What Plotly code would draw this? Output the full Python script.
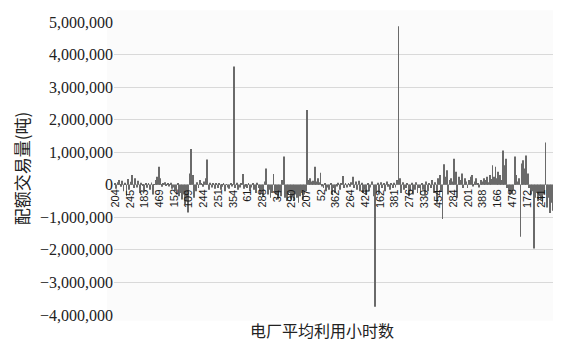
import plotly.graph_objects as go

# Tick labels (every 10th plant, average utilisation hours)
tick_labels = ["204", "245", "183", "469", "152", "109", "244", "251", "354", "61",
               "288", "34", "290", "207", "52", "362", "264", "424", "162", "381",
               "276", "330", "454", "284", "201", "388", "166", "478", "172", "241"]

# Quota trading volume per plant (tonnes) in groups of 10
seg00 = [50000, -120000, 80000, 150000, -60000, 120000, -200000, 60000, -350000, 180000]
seg01 = [-150000, 90000, 300000, -100000, 200000, -80000, 120000, -250000, 60000, -40000]
seg02 = [-200000, 40000, -90000, 30000, -150000, 70000, -300000, 20000, 150000, 250000]
seg03 = [550000, 200000, -60000, 40000, 80000, -30000, 30000, -50000, 60000, -120000]
seg04 = [-80000, -200000, -300000, 50000, -350000, -250000, -450000, -300000, -600000, -500000]
seg05 = [-850000, 350000, 1100000, 300000, -400000, -200000, 80000, -100000, 150000, 50000]
seg06 = [-60000, 100000, 200000, 780000, -150000, 60000, -80000, 50000, -120000, 40000]
seg07 = [-100000, 30000, -150000, -60000, 50000, -200000, 20000, -80000, -120000, 40000]
seg08 = [-50000, 3630000, -100000, 60000, -150000, -80000, 40000, 330000, -120000, -60000]
seg09 = [-100000, 50000, -200000, -80000, 30000, -150000, -250000, 60000, -100000, -300000]
seg10 = [-200000, -350000, 100000, 500000, -300000, -150000, -400000, -250000, 330000, -200000]
seg11 = [-300000, -450000, -200000, -350000, 150000, 870000, -400000, -500000, -300000, -250000]
seg12 = [-450000, -350000, -500000, -300000, -400000, -550000, -350000, -250000, -450000, -300000]
seg13 = [-200000, 2300000, 150000, 200000, 100000, 120000, 550000, 100000, 200000, 80000]
seg14 = [370000, -50000, -100000, 40000, -200000, -80000, -150000, 30000, -300000, -100000]
seg15 = [-250000, -50000, 60000, -150000, 30000, 270000, -100000, 50000, -80000, 40000]
seg16 = [-60000, 80000, 250000, -100000, 100000, -150000, 120000, -200000, 60000, -250000]
seg17 = [-150000, -300000, 40000, -200000, -80000, 100000, -350000, -3750000, -250000, 60000]
seg18 = [-300000, 80000, -100000, 50000, -200000, 100000, -60000, -150000, 30000, -100000]
seg19 = [60000, -80000, 150000, 4870000, 200000, -250000, 80000, -150000, -100000, 50000]
seg20 = [-350000, -200000, 60000, -300000, -150000, 80000, -250000, -100000, -300000, 40000]
seg21 = [-150000, -300000, 100000, -200000, 50000, -100000, 150000, -250000, 80000, -550000]
seg22 = [200000, 300000, -200000, -1050000, 630000, 250000, 450000, -300000, 150000, 200000]
seg23 = [100000, 800000, 400000, -400000, 250000, 150000, 350000, -100000, 200000, 100000]
seg24 = [-100000, 150000, 250000, 300000, -50000, 100000, 200000, 50000, -80000, 150000]
seg25 = [100000, 200000, 150000, 250000, 80000, 300000, 180000, 600000, 250000, 550000]
seg26 = [200000, 400000, 300000, 150000, 1050000, 600000, 800000, -100000, -200000, -300000]
seg27 = [-250000, -150000, 870000, 300000, 100000, 200000, -1600000, 650000, 750000, 500000]
seg28 = [900000, 350000, -100000, -300000, -200000, -1960000, -400000, -250000, -500000, -350000]
seg29 = [-450000, -600000, -300000, 1300000, -700000, -400000, -870000, -550000, -800000, -650000]

segments = [seg00, seg01, seg02, seg03, seg04, seg05, seg06, seg07, seg08, seg09,
            seg10, seg11, seg12, seg13, seg14, seg15, seg16, seg17, seg18, seg19,
            seg20, seg21, seg22, seg23, seg24, seg25, seg26, seg27, seg28, seg29]

values = [v for s in segments for v in s]
xs = list(range(len(values)))
step = len(values) // len(tick_labels)
tick_pos = [i * step for i in range(len(tick_labels))]

y_ticks = [5000000, 4000000, 3000000, 2000000, 1000000, 0,
           -1000000, -2000000, -3000000, -4000000]

fig = go.Figure()
fig.add_trace(go.Bar(x=xs, y=values, marker=dict(color="#6a6a6a", line=dict(width=0)),
                     showlegend=False))

annotations = []
for p, lab in zip(tick_pos, tick_labels):
    annotations.append(dict(x=p, y=0, xref="x", yref="y", text=lab, showarrow=False,
                            textangle=-90, yanchor="top", xanchor="center", yshift=-3,
                            font=dict(family="Liberation Sans", size=11, color="#1a1a1a")))

annotations.append(dict(x=0.472, y=-0.05, xref="paper", yref="paper", text="电厂平均利用小时数",
                        showarrow=False, xanchor="center", yanchor="middle",
                        font=dict(family="Noto Sans CJK SC", size=16, color="#222")))

fig.update_layout(
    width=553, height=336,
    margin=dict(l=106, r=6, t=9, b=29),
    paper_bgcolor="white",
    plot_bgcolor="#fbfbfb",
    bargap=0.4,
    annotations=annotations,
    shapes=[dict(type="rect", xref="paper", yref="paper", x0=-0.016, x1=1.0, y0=-0.02, y1=1.04,
                 fillcolor="#fbfbfb", line=dict(width=0), layer="below")],
    xaxis=dict(range=[-0.5, len(values) - 0.5], showticklabels=False, showgrid=False,
               zeroline=False, showline=False, ticks=""),
    yaxis=dict(range=[-4000000, 5000000], tickvals=y_ticks, tickformat=",d",
               showgrid=True, gridcolor="#d9d9d9", gridwidth=1,
               zeroline=True, zerolinecolor="#c4c4c4", zerolinewidth=1,
               tickfont=dict(family="Liberation Serif", size=16, color="#222"),
               title=dict(text="配额交易量(吨)", standoff=6,
                          font=dict(family="Noto Sans CJK SC", size=17, color="#222"))),
)

fig.write_html("out.html")
